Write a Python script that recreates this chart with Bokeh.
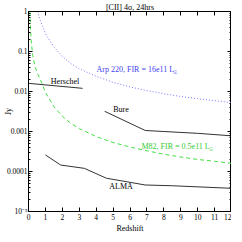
from bokeh.plotting import figure
from bokeh.models import Range1d, LinearAxis, LogAxis, FixedTicker, CustomJSTickFormatter, Label
from bokeh.embed import file_html
from bokeh.resources import INLINE

# ---- data ----
arp_z = [0.53, 0.7, 1.0, 1.5, 2.0, 2.5, 3.0, 4.0, 5.0, 6.0, 7.0, 8.0, 9.0, 10.0, 11.0, 12.0]
arp_jy = [1.0, 0.6, 0.28, 0.13, 0.075, 0.05, 0.037, 0.024, 0.017, 0.013, 0.0105, 0.0088, 0.0075, 0.0066, 0.0059, 0.0053]

m82_z = [0.08, 0.12, 0.15, 0.25, 0.4, 0.55, 0.7, 0.85, 1.0, 1.5, 2.0, 2.5, 3.0, 4.0, 5.0, 6.0, 7.0, 8.0, 9.0, 10.0, 11.0, 12.0]
m82_jy = [1.0, 0.4, 0.2, 0.08, 0.04, 0.027, 0.02, 0.014, 0.0095, 0.0042, 0.0024, 0.0016, 0.00118, 0.00075, 0.00053, 0.00041, 0.00033, 0.00027, 0.00023, 0.0002, 0.00018, 0.00016]

herschel_z = [0.0, 3.2]
herschel_jy = [0.016, 0.012]

bure_z = [4.5, 6.9, 8.0, 10.0, 12.0]
bure_jy = [0.0032, 0.00106, 0.001, 0.0009, 0.00078]

alma_z = [1.0, 1.9, 3.3, 4.6, 6.9, 8.5, 12.0]
alma_jy = [0.00026, 0.000145, 0.00012, 0.000068, 0.000046, 0.000044, 0.000038]

x_ticks = list(range(0, 13))
y_ticks = [1e-5, 1e-4, 1e-3, 1e-2, 1e-1, 1.0]
y_tick_labels = ["10\u207b\u2075", "0.0001", "0.001", "0.01", "0.1", "1"]
y_minor = [m * 10.0 ** e for e in range(-5, 0) for m in range(2, 10)]

FONT = "Liberation Serif"

p = figure(frame_width=203, frame_height=200, x_range=Range1d(0, 12), y_range=Range1d(1e-5, 1),
           y_axis_type="log", output_backend="svg", toolbar_location=None,
           title="[CII] 4\u03c3, 24hrs",
           min_border_left=18, min_border_right=0, min_border_top=0, min_border_bottom=0)
p.title.text_font = FONT
p.title.text_font_size = "8px"
p.title.text_font_style = "normal"
p.title.text_color = "black"
p.title.align = "center"
p.title.standoff = 0
p.title.offset = 0
p.grid.visible = False
p.outline_line_color = "black"
p.background_fill_color = "white"
p.border_fill_color = "white"

xt = FixedTicker(ticks=x_ticks, minor_ticks=[])
yt = FixedTicker(ticks=y_ticks, minor_ticks=y_minor)
yfmt = CustomJSTickFormatter(args=dict(labels=y_tick_labels),
                             code="const e = Math.round(Math.log10(tick)); return labels[e + 5];")
blank = CustomJSTickFormatter(code="return '';")

def style(ax, show):
    ax.major_tick_in = 4
    ax.major_tick_out = 0
    ax.minor_tick_in = 2
    ax.minor_tick_out = 0
    ax.axis_line_color = "black"
    ax.major_tick_line_color = "black"
    ax.minor_tick_line_color = "black"
    ax.major_label_text_font = FONT
    ax.major_label_text_color = "black"
    ax.major_label_text_font_size = "7.5px"
    if show:
        ax.major_label_standoff = 2
    else:
        ax.formatter = blank
        ax.major_label_standoff = 0

bx = p.xaxis[0]
bx.ticker = xt
style(bx, True)
bx.axis_label = "Redshift"
bx.axis_label_text_font = FONT
bx.axis_label_text_font_size = "8px"
bx.axis_label_text_font_style = "normal"
bx.axis_label_text_color = "black"
bx.axis_label_standoff = 1

ly = p.yaxis[0]
ly.ticker = yt
ly.formatter = yfmt
style(ly, True)
ly.major_label_standoff = 1
ly.axis_label = "Jy"
ly.axis_label_text_font = FONT
ly.axis_label_text_font_size = "8px"
ly.axis_label_text_font_style = "normal"
ly.axis_label_text_color = "black"
ly.axis_label_standoff = -9

top = LinearAxis(ticker=FixedTicker(ticks=x_ticks, minor_ticks=[]))
style(top, False)
p.add_layout(top, "above")

right = LogAxis(ticker=FixedTicker(ticks=y_ticks, minor_ticks=y_minor))
style(right, False)
p.add_layout(right, "right")

# ---- curves ----
p.line(arp_z, arp_jy, line_color="#7777ff", line_width=1, line_dash="1 2")
p.line(m82_z, m82_jy, line_color="#44dd44", line_width=1, line_dash="4 3")
p.line(herschel_z, herschel_jy, line_color="#333333", line_width=1)
p.line(bure_z, bure_jy, line_color="#333333", line_width=1)
p.line(alma_z, alma_jy, line_color="#333333", line_width=1)

def lab(x, y, text, color="black", size="8px", align="center", xo=0, yo=0):
    p.add_layout(Label(x=x, y=y, text=text, text_color=color, text_font=FONT,
                       text_font_size=size, text_align=align, text_baseline="middle",
                       x_offset=xo, y_offset=yo))

lab(2.16, 0.0178, "Herschel")
lab(5.47, 0.00355, "Bure")
lab(5.47, 4.2e-5, "ALMA")
lab(4.02, 0.0355, "Arp 220, FIR = 16e11 L", color="#4444ee", align="left")
lab(8.55, 0.0355, "\u2609", color="#4444ee", size="5px", align="left", yo=-3)
lab(6.68, 0.00042, "M82, FIR = 0.5e11 L", color="#33cc33", align="left")
lab(10.66, 0.00042, "\u2609", color="#33cc33", size="5px", align="left", yo=-3)

open("out.html", "w").write(file_html(p, INLINE))
